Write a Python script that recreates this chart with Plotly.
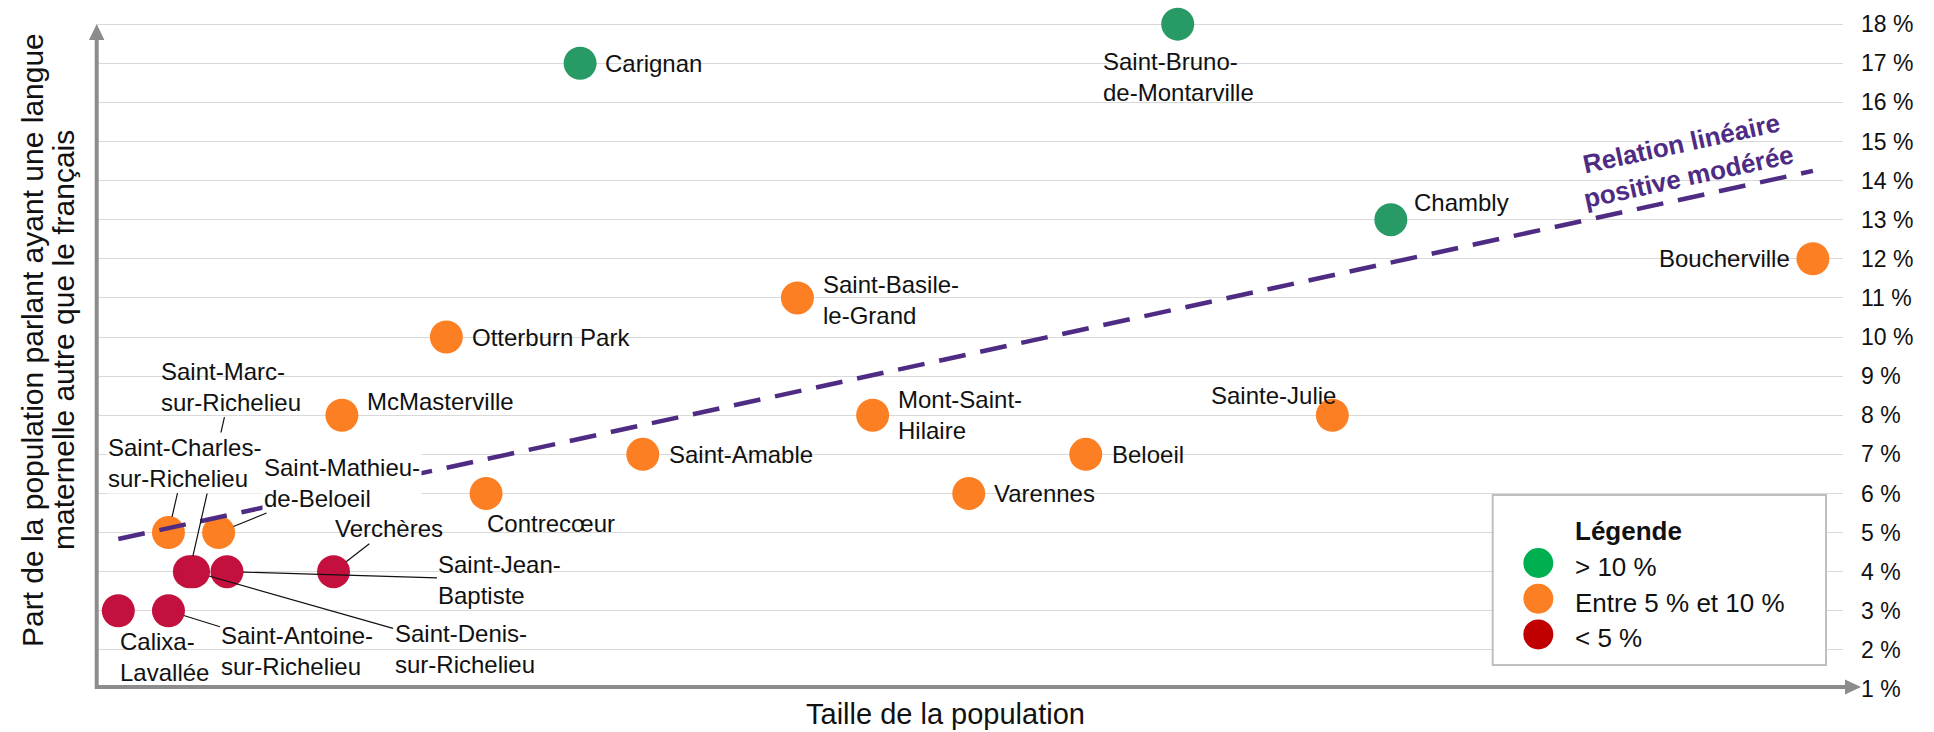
import math
import numpy as np
import plotly.graph_objects as go

# ------------------------------------------------------------------ data
municipalites = [
    "Calixa-Lavallée", "Saint-Antoine-sur-Richelieu", "Saint-Charles-sur-Richelieu",
    "Saint-Marc-sur-Richelieu", "Saint-Denis-sur-Richelieu", "Saint-Mathieu-de-Beloeil",
    "Saint-Jean-Baptiste", "Verchères", "McMasterville", "Otterburn Park", "Contrecœur",
    "Carignan", "Saint-Amable", "Saint-Basile-le-Grand", "Mont-Saint-Hilaire", "Varennes",
    "Beloeil", "Saint-Bruno-de-Montarville", "Sainte-Julie", "Chambly", "Boucherville",
]
etiquettes = [
    "Calixa-<br>Lavallée", "Saint-Antoine-<br>sur-Richelieu", "Saint-Charles-<br>sur-Richelieu",
    "Saint-Marc-<br>sur-Richelieu", "Saint-Denis-<br>sur-Richelieu", "Saint-Mathieu-<br>de-Beloeil",
    "Saint-Jean-<br>Baptiste", "Verchères", "McMasterville", "Otterburn Park", "Contrecœur",
    "Carignan", "Saint-Amable", "Saint-Basile-<br>le-Grand", "Mont-Saint-<br>Hilaire", "Varennes",
    "Beloeil", "Saint-Bruno-<br>de-Montarville", "Sainte-Julie", "Chambly", "Boucherville",
]
population = [500, 1700, 1700, 2200, 2300, 2900, 3100, 5650, 5850, 8350, 9300,
              11550, 13050, 16750, 18550, 20850, 23650, 25850, 29550, 30950, 41050]
part_autre_langue = [3, 3, 5, 4, 4, 5, 4, 4, 8, 10, 6, 17, 7, 11, 8, 6, 7, 18, 8, 13, 12]

categories = ["> 10 %", "Entre 5 % et 10 %", "< 5 %"]
# category index shown for each municipality (0: > 10 %, 1: 5-10 %, 2: < 5 %)
categorie_point = [2, 2, 1, 2, 2, 1, 2, 2, 1, 1, 1, 0, 1, 1, 1, 1, 1, 0, 1, 0, 1]

y_ticks = list(range(1, 19))
y_tick_labels = [f"{v} %" for v in y_ticks]
titre_x = "Taille de la population"
titre_y = ["Part de la population parlant ayant une langue", "maternelle autre que le français"]
titre_tendance = "Relation linéaire<br>positive modérée"
titre_legende = "Légende"

# ------------------------------------------------------------------ style
FONT = "Liberation Sans, Arial, sans-serif"
TXT = "#111111"
W, H = 1934, 732
# plot area in page pixels
X0, X1, Y0, Y1 = 97, 1843, 13, 689
M = dict(l=X0, r=W - X1, t=Y0, b=H - Y1)
PW = X1 - X0
PH = Y1 - Y0
PX_PER_PCT = 39.11
X_RANGE = [-10, 41770]
Y_RANGE = [1, 1 + PH / PX_PER_PCT]
PX_PER_POP = PW / (X_RANGE[1] - X_RANGE[0])

couleurs_points = ["#279a66", "#fd7f23", "#c3103f"]
couleurs_legende = ["#00b050", "#fd7f23", "#c00000"]
VIOLET = "#4e2c84"
GRIS_AXE = "#8c8c8c"


def px_x(p):
    return (p - X0) / PW


def px_y(p):
    return (Y1 - p) / PH


# label placement: kind, dx, dy (pixels, dy positive = down), white background
placement = {
    "Calixa-Lavallée": ("L", 0, 46, False),
    "Saint-Antoine-sur-Richelieu": ("A", 129, 40, False),
    "Saint-Charles-sur-Richelieu": ("A", 16, -70, True),
    "Saint-Marc-sur-Richelieu": ("A", 42, -185, False),
    "Saint-Denis-sur-Richelieu": ("A", 271, 77, False),
    "Saint-Mathieu-de-Beloeil": ("A", 123, -50, True),
    "Saint-Jean-Baptiste": ("A", 273, 8, False),
    "Verchères": ("A", 55, -43, False),
    "McMasterville": ("L", 23, -14, False),
    "Otterburn Park": ("L", 24, 0, False),
    "Contrecœur": ("L", -1, 30, False),
    "Carignan": ("L", 23, 0, False),
    "Saint-Amable": ("L", 24, 0, False),
    "Saint-Basile-le-Grand": ("L", 24, 2, False),
    "Mont-Saint-Hilaire": ("L", 23, 0, False),
    "Varennes": ("L", 23, 0, False),
    "Beloeil": ("L", 24, 0, False),
    "Saint-Bruno-de-Montarville": ("C", 1, 53, False),
    "Sainte-Julie": ("C", -59, -20, False),
    "Chambly": ("L", 21, -17, False),
    "Boucherville": ("R", -21, 0, False),
}

fig = go.Figure()

# points by category
for ci, cat in enumerate(categories):
    idx = [i for i, c in enumerate(categorie_point) if c == ci]
    fig.add_trace(go.Scatter(
        x=[population[i] for i in idx],
        y=[part_autre_langue[i] for i in idx],
        mode="markers",
        name=cat,
        text=[municipalites[i] for i in idx],
        marker=dict(size=33, color=couleurs_points[ci], line=dict(width=0)),
        showlegend=False,
        cliponaxis=False,
    ))

# linear trend (OLS)
pente, ordonnee = np.polyfit(population, part_autre_langue, 1)
x_tend = [min(population), max(population)]
y_tend = [pente * x + ordonnee for x in x_tend]
fig.add_trace(go.Scatter(
    x=x_tend, y=y_tend, mode="lines",
    line=dict(color=VIOLET, width=4.5, dash="27px,15px"),
    showlegend=False, hoverinfo="skip",
))

annotations = []
fond_blanc = []
for nom, lab, x, y in zip(municipalites, etiquettes, population, part_autre_langue):
    kind, dx, dy, bg = placement[nom]
    a = dict(x=x, y=y, xref="x", yref="y", text=lab, align="left",
             font=dict(family=FONT, size=24, color=TXT),
             bgcolor="#ffffff" if bg else "rgba(0,0,0,0)", borderpad=1)
    if kind == "A":
        a.update(showarrow=True, ax=dx, ay=dy, arrowhead=0, arrowwidth=1.2,
                 arrowcolor=TXT, standoff=16)
    else:
        a.update(showarrow=False, xanchor={"L": "left", "R": "right", "C": "center"}[kind],
                 yanchor="middle", xshift=dx, yshift=-dy)
    (fond_blanc if bg else annotations).append(a)
annotations += fond_blanc

# trend label, rotated along the fitted line
angle = -math.degrees(math.atan(pente * PX_PER_PCT / PX_PER_POP))
x_lab = 38000
annotations.append(dict(
    x=x_lab, y=pente * x_lab + ordonnee, xref="x", yref="y", yshift=39,
    text=f"<b>{titre_tendance}</b>", textangle=angle, showarrow=False,
    font=dict(family=FONT, size=26, color=VIOLET), align="center",
))

# axis titles
annotations.append(dict(
    text=titre_x, x=px_x(945), y=px_y(714), xref="paper", yref="paper",
    showarrow=False, font=dict(family=FONT, size=29, color=TXT),
    xanchor="center", yanchor="middle",
))
for t, xp in zip(titre_y, [32, 63]):
    annotations.append(dict(
        text=t, textangle=-90, x=px_x(xp), y=px_y(340), xref="paper", yref="paper",
        showarrow=False, font=dict(family=FONT, size=30, color=TXT),
        xanchor="center", yanchor="middle",
    ))

shapes = []
# axis arrows
shapes.append(dict(type="line", xref="paper", yref="paper", layer="above",
                   x0=px_x(95), x1=px_x(1846), y0=px_y(687), y1=px_y(687),
                   line=dict(color=GRIS_AXE, width=4)))
shapes.append(dict(type="path", xref="paper", yref="paper", layer="above",
                   path=f"M {px_x(1861)},{px_y(687)} L {px_x(1845)},{px_y(679.5)} "
                        f"L {px_x(1845)},{px_y(694.5)} Z",
                   fillcolor=GRIS_AXE, line=dict(width=0)))
shapes.append(dict(type="line", xref="paper", yref="paper", layer="above",
                   x0=px_x(96.7), x1=px_x(96.7), y0=px_y(689), y1=px_y(39),
                   line=dict(color=GRIS_AXE, width=4)))
shapes.append(dict(type="path", xref="paper", yref="paper", layer="above",
                   path=f"M {px_x(96.7)},{px_y(24)} L {px_x(89)},{px_y(40)} "
                        f"L {px_x(104.4)},{px_y(40)} Z",
                   fillcolor=GRIS_AXE, line=dict(width=0)))

# legend box
shapes.append(dict(type="rect", xref="paper", yref="paper", layer="above",
                   x0=px_x(1492.7), x1=px_x(1826), y0=px_y(665), y1=px_y(495),
                   fillcolor="#ffffff", line=dict(color="#bfbfbf", width=2)))
annotations.append(dict(
    text=f"<b>{titre_legende}</b>", x=px_x(1573), y=px_y(531), xref="paper", yref="paper",
    showarrow=False, xanchor="left", yanchor="middle",
    font=dict(family=FONT, size=26, color=TXT),
))
for ci, cat in enumerate(categories):
    cy = 563 + ci * 35.7
    shapes.append(dict(type="circle", xref="paper", yref="paper", layer="above",
                       x0=px_x(1538.3 - 15), x1=px_x(1538.3 + 15),
                       y0=px_y(cy + 15), y1=px_y(cy - 15),
                       fillcolor=couleurs_legende[ci], line=dict(width=0)))
    annotations.append(dict(
        text=cat, x=px_x(1573), y=px_y(cy + 4), xref="paper", yref="paper",
        showarrow=False, xanchor="left", yanchor="middle",
        font=dict(family=FONT, size=26, color=TXT),
    ))

fig.update_layout(
    width=W, height=H,
    margin=dict(l=M["l"], r=M["r"], t=M["t"], b=M["b"], pad=0),
    paper_bgcolor="#ffffff", plot_bgcolor="#ffffff",
    showlegend=False,
    font=dict(family=FONT, color=TXT),
    xaxis=dict(range=X_RANGE, showgrid=False, showticklabels=False, zeroline=False,
               showline=False, ticks=""),
    yaxis=dict(range=Y_RANGE, side="right", tickvals=y_ticks, ticktext=y_tick_labels,
               showgrid=True, gridcolor="#d9d9d9", gridwidth=1.3, zeroline=False,
               showline=False, ticks="", ticklabelstandoff=17,
               tickfont=dict(family=FONT, size=23, color=TXT)),
    annotations=annotations,
    shapes=shapes,
)

# the figure fills the whole window: drop the default page margin
fig.write_html(
    "out.html",
    config={"displayModeBar": False},
    post_script="document.body.style.margin='0px';document.body.style.overflow='hidden';",
)
